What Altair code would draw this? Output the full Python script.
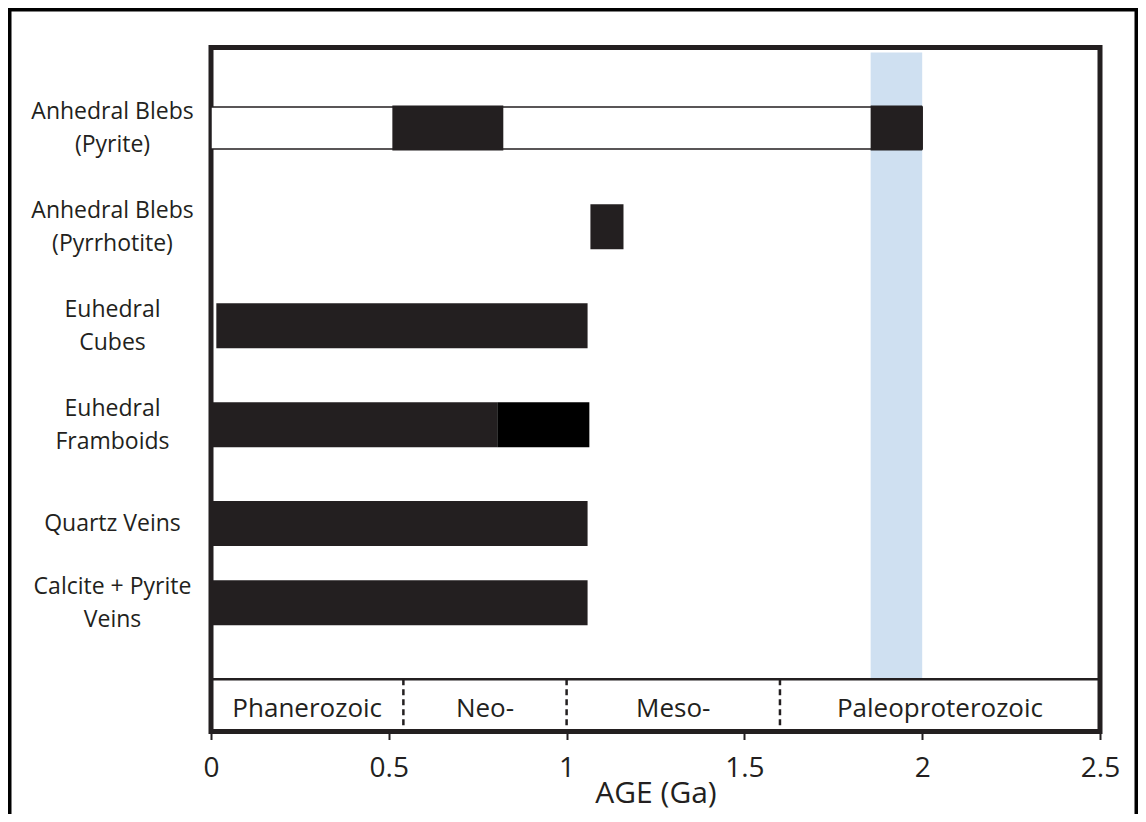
import altair as alt
import pandas as pd

# ---------------- data ----------------
row_labels = [
    "Anhedral Blebs|(Pyrite)",
    "Anhedral Blebs|(Pyrrhotite)",
    "Euhedral|Cubes",
    "Euhedral|Framboids",
    "Quartz Veins",
    "Calcite + Pyrite|Veins",
]
row_pos = [1, 2, 3, 4, 5, 5.8]

# filled (black) age segments, in Ga
seg_row = [0, 0, 1, 2, 3, 3, 4, 5]
seg_start = [0.51, 1.855, 1.067, 0.015, 0.0, 0.805, 0.0, 0.0]
seg_end = [0.822, 2.0, 1.16, 1.059, 0.805, 1.064, 1.059, 1.059]
seg_tone = ["dark", "dark", "dark", "dark", "dark", "black", "dark", "dark"]

# open (outlined) age range
range_row = [0]
range_start = [0.0]
range_end = [2.0]

# highlighted interval (blue band)
band_start = [1.855]
band_end = [2.0]

# geological eras
era_names = ["Phanerozoic", "Neo-", "Meso-", "Paleoproterozoic"]
era_bounds = [0.0, 0.541, 1.0, 1.6, 2.5]

x_ticks = [0, 0.5, 1, 1.5, 2, 2.5]

# ---------------- layout constants ----------------
Y_TOP, ERA_TOP, Y_BOTTOM = 0.238, 6.573, 7.051
FONT = "Open Sans"
INK = "#231f20"
W, H = 889, 684
PAD = {"left": 203, "top": 39.5, "right": 38, "bottom": 82}
LINE_H = 33

seg_df = pd.DataFrame({
    "pos": [row_pos[i] for i in seg_row],
    "start": seg_start,
    "end": seg_end,
    "tone": seg_tone,
})
range_df = pd.DataFrame({
    "pos": [row_pos[i] for i in range_row],
    "start": range_start,
    "end": range_end,
})
band_df = pd.DataFrame({"start": band_start, "end": band_end})
era_df = pd.DataFrame({
    "era": era_names,
    "mid": [(a + b) / 2 for a, b in zip(era_bounds[:-1], era_bounds[1:])],
})
div_df = pd.DataFrame({"b": era_bounds[1:-1]})
one = pd.DataFrame({"k": [0]})

label_expr = ""
for p, lab in zip(row_pos, row_labels):
    label_expr += f"datum.value == {p} ? split('{lab}', '|') : "
label_expr += "''"
two_line = [p for p, lab in zip(row_pos, row_labels) if "|" in lab]
two_line_test = "indexof([" + ",".join(str(p) for p in two_line) + "], datum.value) >= 0"

xscale = alt.Scale(domain=[0, 2.5], nice=False, zero=False)
yscale = alt.Scale(domain=[Y_TOP, Y_BOTTOM], reverse=True, nice=False, zero=False)

x_axis = alt.Axis(
    values=x_ticks, format="~g", title="AGE (Ga)", domain=False, grid=False,
    tickSize=8, tickWidth=2, tickColor=INK, labelFont=FONT, labelFontSize=28,
    labelColor=INK, labelPadding=15, titleFont=FONT, titleFontSize=30,
    titleFontWeight="normal", titleColor=INK, titleBaseline="alphabetic", titleY=71,
    labelFlush=False, labelOverlap=False,
)
y_axis = alt.Axis(
    values=row_pos, labelExpr=label_expr, title=None, domain=False, ticks=False,
    grid=False, labelAlign="center", labelBaseline="middle", labelPadding=99,
    labelFont=FONT, labelFontSize=23, labelLineHeight=LINE_H, labelColor=INK,
    labelOverlap=False, labelFlush=False, labelBound=False,
    labelOffset={"condition": {"test": two_line_test, "value": -LINE_H / 2}, "value": 0},
)

band = alt.Chart(band_df).mark_rect(color="#cfe0f1").encode(
    x=alt.X("start:Q", scale=xscale, axis=x_axis),
    x2="end:Q",
    y=alt.datum(Y_TOP, scale=yscale, axis=y_axis),
    y2=alt.datum(ERA_TOP),
)

outline = alt.Chart(range_df).mark_bar(
    orient="horizontal", height=42, fill="white", stroke=INK, strokeWidth=1.5
).encode(
    x=alt.X("start:Q", scale=xscale),
    x2="end:Q",
    y=alt.Y("pos:Q", scale=yscale),
)

bars = alt.Chart(seg_df).mark_bar(orient="horizontal", height=45).encode(
    x=alt.X("start:Q", scale=xscale),
    x2="end:Q",
    y=alt.Y("pos:Q", scale=yscale),
    color=alt.Color("tone:N", scale=alt.Scale(domain=["dark", "black"], range=[INK, "#000000"]), legend=None),
)

era_line = alt.Chart(one).mark_rule(color=INK, strokeWidth=2.5).encode(
    x=alt.datum(0, scale=xscale), x2=alt.datum(2.5), y=alt.datum(ERA_TOP, scale=yscale)
)

dividers = alt.Chart(div_df).mark_rule(color=INK, strokeWidth=2.5, strokeDash=[6, 4]).encode(
    x=alt.X("b:Q", scale=xscale), y=alt.datum(ERA_TOP, scale=yscale), y2=alt.datum(Y_BOTTOM)
)

era_text = alt.Chart(era_df).mark_text(
    font=FONT, fontSize=26, color=INK, baseline="middle", align="center", dy=6
).encode(
    x=alt.X("mid:Q", scale=xscale),
    y=alt.datum((ERA_TOP + Y_BOTTOM) / 2, scale=yscale),
    text="era:N",
)

# outer figure border, hugging the edges of the drawing
border = alt.Chart(one).mark_rect(fill=None, stroke="#000000", strokeWidth=3.5).encode(
    x=alt.value(-PAD["left"] + 1.75), x2=alt.value(W + PAD["right"] - 1.75),
    y=alt.value(-PAD["top"] + 1.75), y2=alt.value(H + 200),
)

chart = alt.layer(band, outline, bars, era_line, dividers, era_text, border).properties(
    width=W, height=H,
    autosize=alt.AutoSizeParams(type="none"),
    padding=PAD,
    background="white",
).configure_view(stroke=INK, strokeWidth=5)

chart.save("out.html", embed_options={"renderer": "svg", "actions": False})
